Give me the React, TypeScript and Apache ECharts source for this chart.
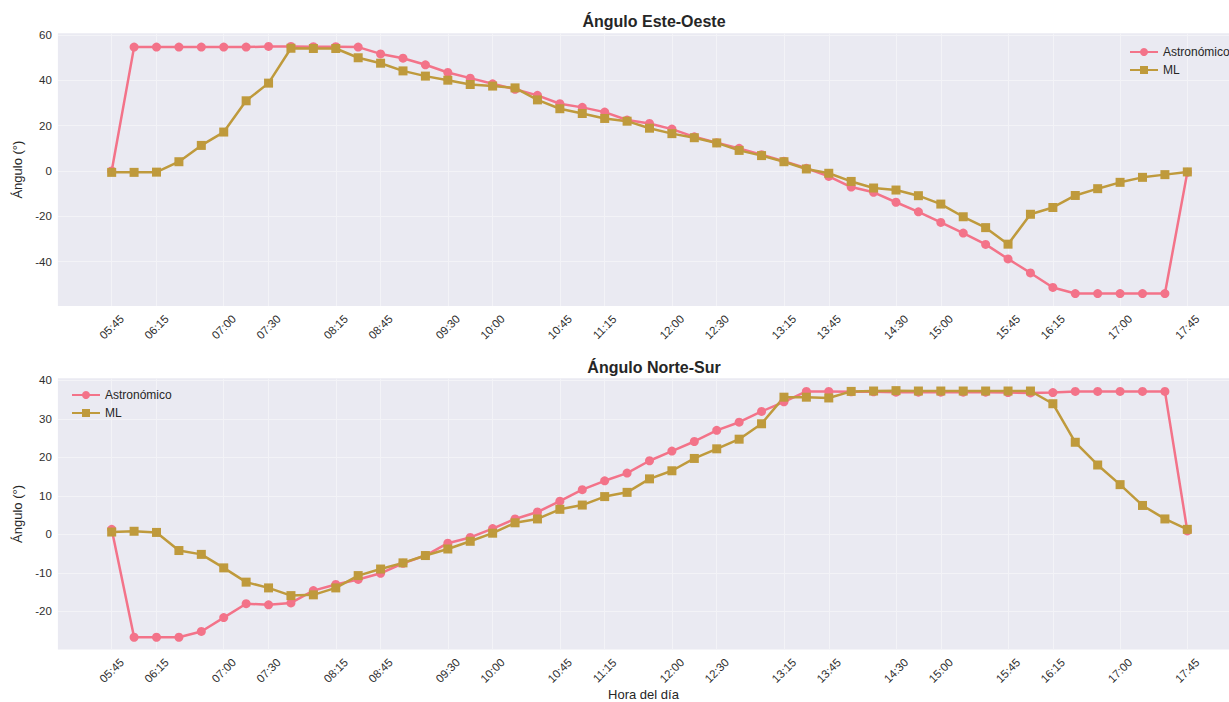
import React, { useEffect, useRef } from "react";
import * as echarts from "echarts";

const times = [
  "05:45", "06:00", "06:15", "06:30", "06:45", "07:00", "07:15", "07:30", "07:45",
  "08:00", "08:15", "08:30", "08:45", "09:00", "09:15", "09:30", "09:45", "10:00",
  "10:15", "10:30", "10:45", "11:00", "11:15", "11:30", "11:45", "12:00", "12:15",
  "12:30", "12:45", "13:00", "13:15", "13:30", "13:45", "14:00", "14:15", "14:30",
  "14:45", "15:00", "15:15", "15:30", "15:45", "16:00", "16:15", "16:30", "16:45",
  "17:00", "17:15", "17:30", "17:45",
];

const tickTimes = [
  "05:45", "06:15", "07:00", "07:30", "08:15", "08:45", "09:30", "10:00", "10:45", "11:15",
  "12:00", "12:30", "13:15", "13:45", "14:30", "15:00", "15:45", "16:15", "17:00", "17:45",
];

const astroEW = [
  0, 54.7, 54.7, 54.7, 54.7, 54.7, 54.7, 55.0, 55.0, 54.9, 54.9, 54.7, 51.7, 49.8, 46.9, 43.5,
  41.0, 38.5, 36.1, 33.4, 29.7, 28.1, 26.0, 22.5, 21.0, 18.5, 15.1, 12.5, 10.0, 7.2, 4.3, 1.2,
  -2.4, -7.1, -9.4, -13.8, -18.0, -22.7, -27.4, -32.4, -38.8, -45.0, -51.4, -54.1, -54.1, -54.1,
  -54.1, -54.1, -0.6,
];

const mlEW = [
  -0.6, -0.6, -0.5, 4.1, 11.3, 17.2, 31.0, 38.8, 54.2, 54.1, 54.1, 50.0, 47.6, 44.2, 41.9, 40.1,
  38.2, 37.5, 36.7, 31.4, 27.5, 25.4, 23.2, 22.0, 18.9, 16.5, 14.7, 12.4, 9.1, 6.8, 4.1, 0.9,
  -1.0, -4.6, -7.5, -8.4, -10.9, -14.6, -20.2, -25.0, -32.3, -19.1, -16.1, -10.8, -7.8, -5.0,
  -2.8, -1.6, -0.4,
];

const astroNS = [
  1.3, -26.7, -26.7, -26.7, -25.2, -21.6, -18.0, -18.3, -17.8, -14.6, -13.0, -11.7, -10.1, -7.5,
  -5.5, -2.3, -0.8, 1.5, 4.0, 5.8, 8.6, 11.6, 13.9, 15.9, 19.1, 21.6, 24.1, 27.0, 29.1, 31.9,
  34.4, 37.1, 37.1, 37.0, 37.0, 36.9, 36.9, 36.9, 36.9, 36.9, 36.8, 36.7, 36.8, 37.1, 37.1, 37.1,
  37.1, 37.1, 0.9,
];

const mlNS = [
  0.6, 0.8, 0.5, -4.2, -5.2, -8.7, -12.4, -13.9, -15.9, -15.7, -13.9, -10.7, -9.0, -7.4, -5.5,
  -3.8, -1.8, 0.3, 3.0, 4.0, 6.5, 7.6, 9.8, 10.9, 14.4, 16.5, 19.7, 22.2, 24.7, 28.7, 35.6, 35.6,
  35.4, 37.1, 37.2, 37.3, 37.2, 37.2, 37.2, 37.2, 37.2, 37.2, 33.9, 23.9, 18.0, 12.9, 7.5, 4.0, 1.3,
];

const ticksEW = [-40, -20, 0, 20, 40, 60];
const ticksNS = [-20, -10, 0, 10, 20, 30, 40];

const FONT = "'Liberation Sans', Arial, sans-serif";
const ASTRO = "#f37389";
const MLC = "#bf9a3c";

export default function App() {
  const ref = useRef<HTMLDivElement>(null);

  useEffect(() => {
    if (!ref.current) return;
    const chart = echarts.init(ref.current, null, { renderer: "svg" });
    const tickIdx = tickTimes.map((t) => times.indexOf(t));
    const pairs = (arr: number[]) => arr.map((v, i) => [i, v]);

    const xAxisBase = (gridIndex: number, name?: string) => ({
      type: "value",
      gridIndex,
      min: -2.4,
      max: 49.86,
      name: name || "",
      nameLocation: "middle",
      nameGap: 37,
      nameTextStyle: { fontSize: 13, color: "#262626", fontFamily: FONT },
      axisLine: { show: false },
      axisTick: { show: false, customValues: tickIdx },
      axisLabel: {
        customValues: tickIdx,
        formatter: (v: number) => times[Math.round(v)] ?? "",
        rotate: 45,
        align: "center",
        verticalAlign: "middle",
        margin: 21,
        fontSize: 11.5,
        color: "#2e2e2e",
        fontFamily: FONT,
      },
      splitLine: { show: true, lineStyle: { color: "#f3f3f7", width: 1 } },
    });

    const yAxisBase = (gridIndex: number, min: number, max: number, ticks: number[]) => ({
      type: "value",
      gridIndex,
      min,
      max,
      name: "Ángulo (°)",
      nameLocation: "middle",
      nameGap: 34,
      nameTextStyle: { fontSize: 13, color: "#262626", fontFamily: FONT },
      axisLine: { show: false },
      axisTick: { show: false, customValues: ticks },
      axisLabel: {
        customValues: ticks,
        margin: 6,
        fontSize: 11.5,
        color: "#2e2e2e",
        fontFamily: FONT,
      },
      splitLine: { show: true, lineStyle: { color: "#f3f3f7", width: 1 } },
    });

    const lineSeries = (name: string, data: number[], idx: number, color: string, symbol: string, size: number) => ({
      name,
      type: "line",
      xAxisIndex: idx,
      yAxisIndex: idx,
      data: pairs(data),
      symbol,
      symbolSize: size,
      showSymbol: true,
      lineStyle: { color, width: 2.5 },
      itemStyle: { color },
      emphasis: { disabled: true },
    });

    chart.setOption({
      animation: false,
      backgroundColor: "#ffffff",
      textStyle: { fontFamily: FONT },
      title: [
        {
          text: "Ángulo Este-Oeste",
          left: 649,
          top: 8,
          textAlign: "center",
          textStyle: { fontSize: 16, fontWeight: "bold", color: "#262626", fontFamily: FONT },
        },
        {
          text: "Ángulo Norte-Sur",
          left: 649,
          top: 354,
          textAlign: "center",
          textStyle: { fontSize: 16, fontWeight: "bold", color: "#262626", fontFamily: FONT },
        },
      ],
      legend: [
        {
          data: ["Astronómico", "ML"],
          orient: "vertical",
          left: 1124,
          top: 41,
          itemWidth: 28,
          itemHeight: 10,
          itemGap: 6,
          textStyle: { fontSize: 12, color: "#262626", fontFamily: FONT },
        },
        {
          data: ["Astronómico", "ML"],
          orient: "vertical",
          left: 66,
          top: 384,
          itemWidth: 28,
          itemHeight: 10,
          itemGap: 6,
          textStyle: { fontSize: 12, color: "#262626", fontFamily: FONT },
        },
      ],
      grid: [
        { left: 57.9, top: 33.3, width: 1171.1, height: 272.7, show: true, backgroundColor: "#eaeaf2", borderWidth: 0 },
        { left: 57.9, top: 378.3, width: 1171.1, height: 272.4, show: true, backgroundColor: "#eaeaf2", borderWidth: 0 },
      ],
      xAxis: [xAxisBase(0), xAxisBase(1, "Hora del día")],
      yAxis: [yAxisBase(0, -59.6, 60.8, ticksEW), yAxisBase(1, -29.9, 40.5, ticksNS)],
      series: [
        lineSeries("Astronómico", astroEW, 0, ASTRO, "circle", 9),
        lineSeries("ML", mlEW, 0, MLC, "rect", 9),
        lineSeries("Astronómico", astroNS, 1, ASTRO, "circle", 9),
        lineSeries("ML", mlNS, 1, MLC, "rect", 9),
      ],
    });

    return () => chart.dispose();
  }, []);

  return (
    <div
      ref={ref}
      style={{ position: "fixed", left: 0, top: 0, width: 1229, height: 702, background: "#fff" }}
    />
  );
}
